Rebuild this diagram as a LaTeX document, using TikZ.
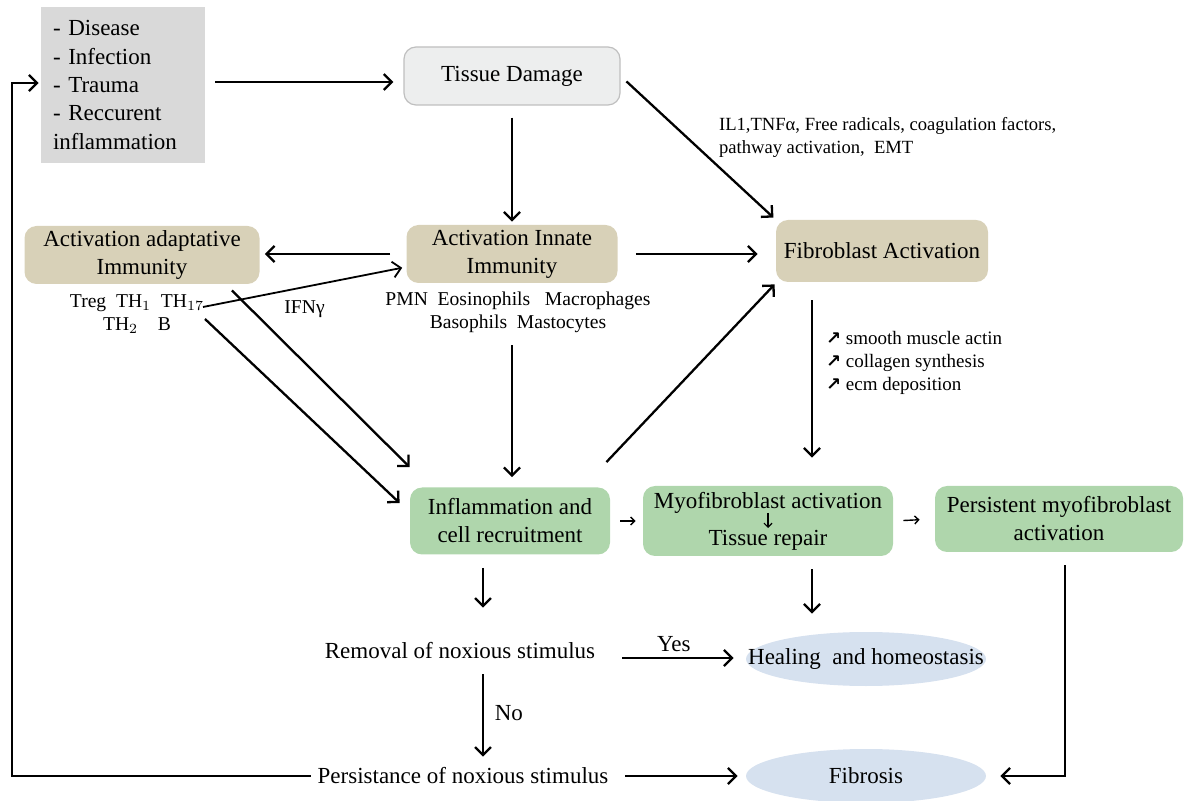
\documentclass[tikz,border=0pt]{standalone}
\usepackage{fontspec}
\setmainfont{Liberation Serif}
\newfontfamily\symfont{DejaVu Sans}
\usetikzlibrary{arrows.meta, positioning, calc, shapes.geometric}
\definecolor{cgray}{HTML}{D9D9D9}
\definecolor{ctissue}{HTML}{EDEEEE}
\definecolor{ctan}{HTML}{D8D1B8}
\definecolor{cgreen}{HTML}{AFD6AC}
\definecolor{cblue}{HTML}{D6E1EF}
\tikzset{
  >={Straight Barb[length=4pt,width=8pt]},
  font=\fontsize{11.5}{14}\selectfont,
  cause/.style={
    fill=cgray, draw=none, align=left, inner sep=6pt,
    text width=70pt, minimum height=78pt, font=\fontsize{11.5}{14.2}\selectfont
  },
  card/.style={
    fill=#1, draw=none, rounded corners=6pt, align=center, inner sep=0pt
  },
  card/.default=ctan,
  outcome/.style={ellipse, fill=cblue, draw=none, inner xsep=-17pt, inner ysep=0pt},
  arr/.style={->, line width=1.15pt, shorten <=5pt, shorten >=5pt},
  tick/.style={-{Straight Barb[length=2pt,width=4pt]}, line width=0.7pt},
  lab/.style={font=\fontsize{9.8}{11.5}\selectfont, align=center}
}
\begin{document}
\begin{tikzpicture}[x=0.5pt, y=-0.5pt]
  \useasboundingbox (0,0) rectangle (1188,801);

  % boxes
  \node[cause] (src) at (123,85) {- Disease\\- Infection\\- Trauma\\- Reccurent\\inflammation};
  \node[card=ctissue, draw=black!25, line width=0.6pt, minimum width=108pt, minimum height=29pt] (tissue) at (512,76) {Tissue Damage};
  \node[card, minimum width=117.5pt, minimum height=29pt] (adap) at (142,255) {Activation adaptative\\Immunity};
  \node[card, minimum width=105.5pt, minimum height=29pt] (innate) at (512,254) {Activation Innate\\Immunity};
  \node[card, minimum width=106pt, minimum height=31pt] (fib) at (882,251) {Fibroblast Activation};
  \node[card=cgreen, minimum width=100pt, minimum height=33.5pt] (infl) at (510,521) {Inflammation and\\cell recruitment};
  \node[card=cgreen, minimum width=125pt, minimum height=35pt, align=center,
        font=\fontsize{11.5}{18.5}\selectfont] (myo) at (768,521) {Myofibroblast activation\\Tissue repair};
  \node[card=cgreen, minimum width=124pt, minimum height=33pt] (pers) at (1059,519) {Persistent myofibroblast\\activation};
  \node[outcome, minimum width=120pt, minimum height=27pt] (heal) at (866,659) {Healing\ \ and homeostasis};
  \node[outcome, minimum width=120pt, minimum height=27pt] (fibrosis) at (866,776) {Fibrosis};
  \node (removal) at (460,651) {Removal of noxious stimulus};
  \node (persist) at (463,776) {Persistance of noxious stimulus};

  % labels
  \node[lab] (adapcells) at (137,314) {Treg~~TH$_1$~~TH$_{17}$\\TH$_2$~~~~B};
  \node[lab] (innatecells) at (518,312) {PMN~~Eosinophils~~~Macrophages\\Basophils~~Mastocytes};
  \node[lab, anchor=north west, align=left, font=\fontsize{9.3}{11.5}\selectfont] (signals) at (712,110)
    {IL1,TNFα, Free radicals, coagulation factors,\\pathway activation,~~EMT};
  \node[lab, anchor=west, align=left, font=\fontsize{9.5}{11.5}\selectfont] (markers) at (819,363)
    {{\symfont\bfseries\small↗}~smooth muscle actin\\{\symfont\bfseries\small↗}~collagen synthesis\\{\symfont\bfseries\small↗}~ecm deposition};
  \coordinate (th17) at (203,307);
  \coordinate (thb) at (205,319);

  % connectors
  \draw[arr] (src.east |- 0,82) -- (tissue.west |- 0,82);
  \draw[arr, shorten <=6pt, shorten >=1.5pt] (tissue.south) -- (innate.north);
  \draw[arr, shorten <=4pt, shorten >=1.5pt] (tissue.east) -- (fib.north west);
  \draw[arr, shorten <=8pt, shorten >=2.5pt] (innate.west) -- (innate.west -| adap.east);
  \draw[arr, shorten <=9pt, shorten >=9pt] (innate.east) -- (innate.east -| fib.west);
  \draw[arr, shorten <=0pt, shorten >=2pt, line width=0.9pt] (th17) -- ($(innate.west)+(0,13)$)
    node[pos=0.5, below=3pt, lab] {IFNγ};
  \draw[arr, shorten <=0pt, shorten >=0pt] ($(adap.south east)+(-28,6)$) -- ($(infl.north west)+(0,-20)$);
  \draw[arr, shorten <=0pt, shorten >=0pt] (thb) -- ($(infl.west)+(-10,-18)$);
  \draw[arr, shorten <=3pt, shorten >=5pt] (innatecells.south -| 512,0) -- (infl.north -| 512,0);
  \draw[arr, shorten <=0pt, shorten >=0pt] ($(infl.north east)+(-4,-25)$) -- ($(fib.south west)+(-1,2)$);
  \draw[arr, shorten <=9pt, shorten >=14pt] (fib.south -| 812,0) -- (myo.north -| 812,0);
  \draw[tick, shorten <=5pt, shorten >=3.5pt] (infl.east) -- (myo.west);
  \draw[tick, shorten <=5pt, shorten >=7.5pt] (myo.east) -- (pers.west);
  \draw[tick, line width=0.6pt] ($(myo.center)+(0,-8)$) -- ($(myo.center)+(0,7)$);
  \draw[arr, shorten <=6.5pt, shorten >=14pt] (infl.south -| 483,0) -- (removal.north -| 483,0);
  \draw[arr, shorten <=6.5pt, shorten >=9pt] (myo.south -| 812,0) -- (heal.north -| 812,0);
  \draw[arr, shorten <=10pt, shorten >=6pt] (removal.east |- 0,658) -- (heal.west |- 0,658)
    node[midway, above=-1pt] {Yes};
  \draw[arr, shorten <=4pt, shorten >=2pt] (removal.south -| 483,0) -- (persist.north -| 483,0)
    node[midway, right=2pt] {No};
  \draw[arr, shorten <=5pt, shorten >=4pt] (persist.east) -- (fibrosis.west);
  \draw[arr, shorten <=6.5pt, shorten >=7pt] (pers.south -| 1065,0) |- (fibrosis.east);
  \draw[arr, shorten <=0pt, shorten >=1pt] (persist.west) -| (12,83) -- (src.west |- 0,83);
\end{tikzpicture}
\end{document}
